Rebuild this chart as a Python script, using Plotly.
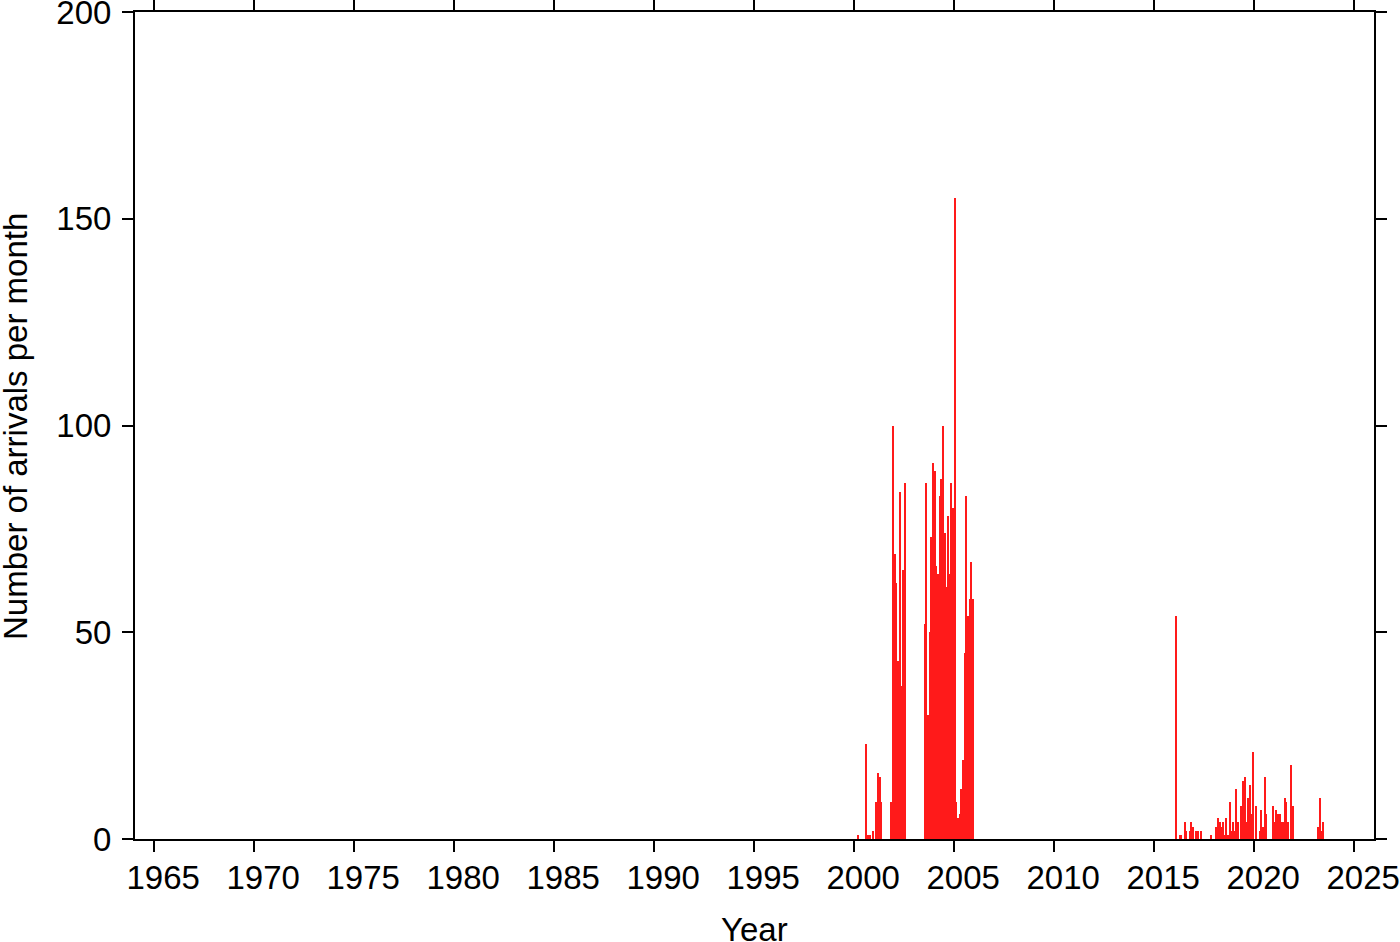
import plotly.graph_objects as go

# Monthly arrival counts (YYYY-MM -> count); months not listed are zero
months = [
    "2000-03", "2000-08", "2000-09", "2000-10", "2000-12",
    "2001-02", "2001-03", "2001-04", "2001-05", "2001-11", "2001-12",
    "2002-01", "2002-02", "2002-03", "2002-04", "2002-05", "2002-06", "2002-07",
    "2003-07", "2003-08", "2003-09", "2003-10", "2003-11", "2003-12",
    "2004-01", "2004-02", "2004-03", "2004-04", "2004-05", "2004-06",
    "2004-07", "2004-08", "2004-09", "2004-10", "2004-11", "2004-12",
    "2005-01", "2005-02", "2005-03", "2005-04", "2005-05", "2005-06",
    "2005-07", "2005-08", "2005-09", "2005-10", "2005-11", "2005-12",
    "2016-02", "2016-04", "2016-05", "2016-07", "2016-08", "2016-10", "2016-11", "2016-12",
    "2017-02", "2017-03", "2017-05", "2017-11",
    "2018-02", "2018-03", "2018-04", "2018-05", "2018-06", "2018-07",
    "2018-08", "2018-09", "2018-10", "2018-11", "2018-12",
    "2019-01", "2019-02", "2019-03", "2019-05", "2019-06", "2019-07",
    "2019-08", "2019-09", "2019-10", "2019-11", "2019-12",
    "2020-02", "2020-04", "2020-05", "2020-06", "2020-07", "2020-08", "2020-12",
    "2021-01", "2021-02", "2021-03", "2021-04", "2021-05", "2021-06",
    "2021-07", "2021-08", "2021-09", "2021-11", "2021-12",
    "2023-03", "2023-04", "2023-05", "2023-06",
]
arrivals = [
    1, 23, 1, 1, 2,
    9, 16, 15, 9, 9, 100,
    69, 62, 43, 84, 37, 65, 86,
    52, 86, 30, 50, 73, 91,
    89, 66, 64, 83, 87, 100,
    74, 61, 78, 64, 86, 80,
    155, 9, 5, 6, 12, 19,
    45, 83, 54, 58, 67, 58,
    54, 1, 1, 4, 2, 2, 4, 3,
    2, 2, 2, 1,
    3, 5, 4, 3, 4, 1,
    5, 1, 9, 2, 4,
    2, 12, 4, 8, 14, 15,
    4, 10, 13, 6, 21,
    8, 2, 7, 3, 15, 6, 8,
    4, 7, 6, 6, 4, 4,
    10, 9, 4, 18, 8,
    3, 10, 2, 4,
]

x_ticks = [1965, 1970, 1975, 1980, 1985, 1990, 1995, 2000, 2005, 2010, 2015, 2020, 2025]
y_ticks = [0, 50, 100, 150, 200]
x_title = "Year"
y_title = "Number of arrivals per month"

# bar centers in decimal years (each bar spans one month)
x_centers = [int(m[:4]) + (int(m[5:]) - 0.5) / 12 for m in months]

FONT = "Liberation Sans, Arial, Helvetica, sans-serif"
W, H = 1400, 942
ML, MR, MT, MB = 135, 26, 12, 103
PW, PH = W - ML - MR, H - MT - MB

fig = go.Figure(
    go.Bar(
        x=x_centers,
        y=arrivals,
        width=[1 / 12] * len(x_centers),
        marker=dict(color="#ff1a1a", line=dict(width=0)),
        hoverinfo="x+y",
    )
)

axis_common = dict(
    showline=True,
    linecolor="black",
    linewidth=2,
    mirror="ticks",
    ticks="outside",
    ticklen=11,
    tickwidth=1.5,
    tickcolor="black",
    showgrid=False,
    zeroline=False,
    automargin=False,
    ticklabeloverflow="allow",
    tickfont=dict(family=FONT, size=33, color="black"),
)

fig.update_layout(
    width=W,
    height=H,
    paper_bgcolor="white",
    plot_bgcolor="white",
    margin=dict(l=ML, r=MR, t=MT, b=MB, autoexpand=False),
    bargap=0,
    showlegend=False,
    font=dict(family=FONT, color="black"),
    xaxis=dict(
        range=[1964.05, 2026.0],
        tickmode="array",
        tickvals=x_ticks,
        # labels sit slightly right of their ticks, as in the original
        ticktext=["\u00a0\u00a0" + str(v) for v in x_ticks],
        ticklabelstandoff=-3,
        **axis_common,
    ),
    yaxis=dict(
        range=[0, 200],
        tickmode="array",
        tickvals=y_ticks,
        ticktext=[str(v) for v in y_ticks],
        ticklabelstandoff=4,
        **axis_common,
    ),
    annotations=[
        dict(
            text=x_title,
            xref="paper", yref="paper",
            x=0.5, y=-(929.5 - MT - PH) / PH,
            xanchor="center", yanchor="middle",
            showarrow=False,
            font=dict(family=FONT, size=33, color="black"),
        ),
        dict(
            text=y_title,
            xref="paper", yref="paper",
            x=(15 - ML) / PW, y=1 - (427 - MT) / PH,
            xanchor="center", yanchor="middle",
            textangle=-90,
            showarrow=False,
            font=dict(family=FONT, size=33, color="black"),
        ),
    ],
)

fig.write_html(
    "out.html",
    config={"displayModeBar": False},
    post_script="document.body.style.margin='0';document.body.style.overflow='hidden';",
)
